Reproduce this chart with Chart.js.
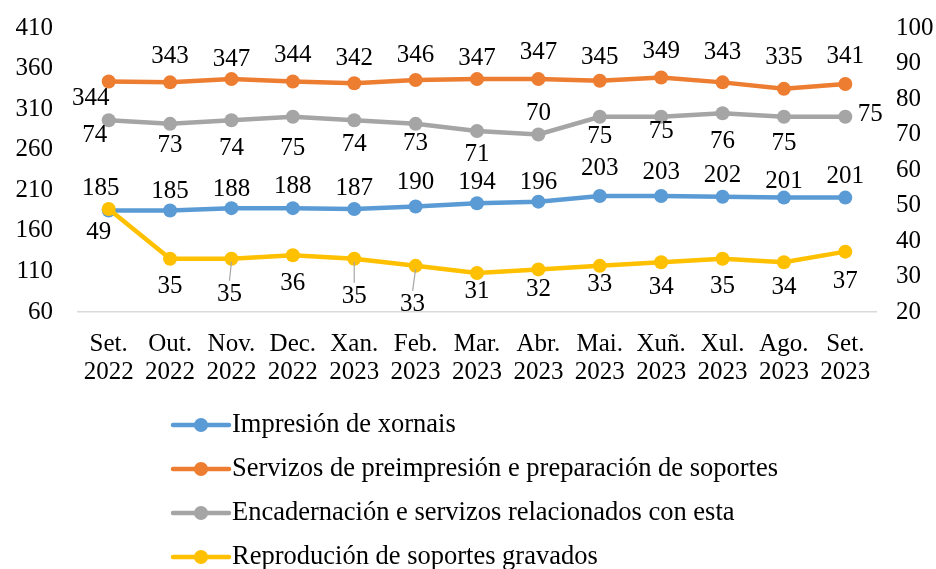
<!DOCTYPE html>
<html>
<head>
<meta charset="utf-8">
<script src="https://cdn.jsdelivr.net/npm/chart.js@4.4.1/dist/chart.umd.min.js"></script>
<style>
  html, body { margin: 0; padding: 0; background: #ffffff; }
  #wrap { width: 936px; height: 569px; position: relative; }
</style>
</head>
<body>
<div id="wrap"><canvas id="c"></canvas></div>
<script>
// ---- data ----
const categories = [
  ['Set.', '2022'], ['Out.', '2022'], ['Nov.', '2022'], ['Dec.', '2022'],
  ['Xan.', '2023'], ['Feb.', '2023'], ['Mar.', '2023'], ['Abr.', '2023'],
  ['Mai.', '2023'], ['Xuñ.', '2023'], ['Xul.', '2023'], ['Ago.', '2023'], ['Set.', '2023']
];
const seriesNames = [
  'Impresión de xornais',
  'Servizos de preimpresión e preparación de soportes',
  'Encadernación e servizos relacionados con esta',
  'Reprodución de soportes gravados'
];
const impresionXornais = [185, 185, 188, 188, 187, 190, 194, 196, 203, 203, 202, 201, 201];
const preimpresion     = [344, 343, 347, 344, 342, 346, 347, 347, 345, 349, 343, 335, 341];
const encadernacion    = [74, 73, 74, 75, 74, 73, 71, 70, 75, 75, 76, 75, 75];
const reproducion      = [49, 35, 35, 36, 35, 33, 31, 32, 33, 34, 35, 34, 37];
const leftTicks  = { min: 60, max: 410, step: 50 };
const rightTicks = { min: 20, max: 100, step: 10 };

// ---- styles ----
const colors = ['#5b9bd5', '#ed7d31', '#a5a5a5', '#ffc000'];
const FONT = '"Liberation Serif", "Times New Roman", serif';
const FSIZE = 25;
const LEGEND_FSIZE = 26.5;

// label offsets (pixels relative to the point), per series
const labelDX = [
  [-8,0,0,0,0,0,0,0,0,0,0,0,0],
  [-18,0,0,0,0,0,0,0,0,0,0,0,0],
  [-14,0,0,0,0,0,0,0,0,0,0,0,25],
  [-10,0,-2,0,0,-3,0,0,0,0,0,0,0]
];
const labelDY = [
  [-22,-19,-19,-22,-21,-24,-21,-19,-28,-24,-21,-16,-21],
  [17,-26,-20,-26,-25,-24,-21,-27,-23,-26,-30,-31,-28],
  [15,22,28,32,24,20,23,-21,20,15,28,27,-2],
  [23,28,36,28,38,39,18,20,19,25,28,25,30]
];
// leader lines for some displaced labels: [series, index]
const leaders = [[3, 2], [3, 4], [3, 5]];

const labelPlugin = {
  id: 'pointLabels',
  afterDatasetsDraw(chart) {
    const ctx = chart.ctx;
    ctx.save();
    ctx.strokeStyle = '#a6a6a6';
    ctx.lineWidth = 1.2;
    leaders.forEach(([s, i]) => {
      const el = chart.getDatasetMeta(s).data[i];
      const x0 = el.x, y0 = el.y + 3;
      const x1 = el.x + labelDX[s][i], y1 = el.y + labelDY[s][i] - 14;
      ctx.beginPath(); ctx.moveTo(x0, y0); ctx.lineTo(x1, y1); ctx.stroke();
    });
    ctx.font = FSIZE + 'px ' + FONT;
    ctx.fillStyle = '#000000';
    ctx.textAlign = 'center';
    ctx.textBaseline = 'middle';
    chart.data.datasets.forEach((ds, s) => {
      const meta = chart.getDatasetMeta(s);
      meta.data.forEach((el, i) => {
        ctx.fillText(String(ds.data[i]), el.x + labelDX[s][i], el.y + labelDY[s][i]);
      });
    });
    ctx.restore();
  },
  afterDraw(chart) {
    const ctx = chart.ctx;
    ctx.save();
    const x0 = 173, x1 = 229, cx = 201, tx = 232;
    const ys = [425, 469, 513, 557];
    seriesNames.forEach((name, k) => {
      const y = ys[k];
      ctx.strokeStyle = colors[k];
      ctx.lineWidth = 4.5;
      ctx.lineCap = 'round';
      ctx.beginPath(); ctx.moveTo(x0, y); ctx.lineTo(x1, y); ctx.stroke();
      ctx.fillStyle = colors[k];
      ctx.beginPath(); ctx.arc(cx, y, 7, 0, Math.PI * 2); ctx.fill();
      ctx.fillStyle = '#000000';
      ctx.font = LEGEND_FSIZE + 'px ' + FONT;
      ctx.textAlign = 'left';
      ctx.textBaseline = 'middle';
      ctx.fillText(name, tx, y);
    });
    ctx.restore();
  }
};

const makeDs = (label, data, k, axis, order) => ({
  label, data, yAxisID: axis, order,
  borderColor: colors[k], backgroundColor: colors[k],
  pointBackgroundColor: colors[k], pointBorderColor: colors[k],
  borderWidth: 4.5, pointRadius: 7, pointHoverRadius: 7, pointBorderWidth: 0,
  tension: 0, fill: false
});

const fitY = (w) => (scale) => { scale.width = w; scale.paddingTop = 0; scale.paddingBottom = 0; };

new Chart(document.getElementById('c'), {
  type: 'line',
  data: {
    labels: categories,
    datasets: [
      makeDs(seriesNames[0], impresionXornais, 0, 'y', 4),
      makeDs(seriesNames[1], preimpresion, 1, 'y', 3),
      makeDs(seriesNames[2], encadernacion, 2, 'y1', 2),
      makeDs(seriesNames[3], reproducion, 3, 'y1', 1)
    ]
  },
  options: {
    responsive: true,
    maintainAspectRatio: false,
    animation: false,
    layout: { padding: { top: 28, left: 0, right: 0, bottom: 0 } },
    plugins: { legend: { display: false }, tooltip: { enabled: false } },
    scales: {
      x: {
        offset: true,
        grid: { display: false, drawTicks: false },
        border: { display: true, color: '#d9d9d9', width: 1.5 },
        ticks: { color: '#000', font: { family: FONT, size: FSIZE, lineHeight: 1.1 }, padding: 19, maxRotation: 0, autoSkip: false },
        afterFit(scale) { scale.height = 257; }
      },
      y: {
        position: 'left',
        min: leftTicks.min, max: leftTicks.max,
        grid: { display: false, drawTicks: false },
        border: { display: false },
        ticks: { stepSize: leftTicks.step, color: '#000', font: { family: FONT, size: FSIZE }, padding: 25 },
        afterFit: fitY(78)
      },
      y1: {
        position: 'right',
        min: rightTicks.min, max: rightTicks.max,
        grid: { display: false, drawTicks: false },
        border: { display: false },
        ticks: { stepSize: rightTicks.step, color: '#000', font: { family: FONT, size: FSIZE }, padding: 20 },
        afterFit: fitY(60)
      }
    }
  },
  plugins: [labelPlugin]
});
</script>
</body>
</html>
